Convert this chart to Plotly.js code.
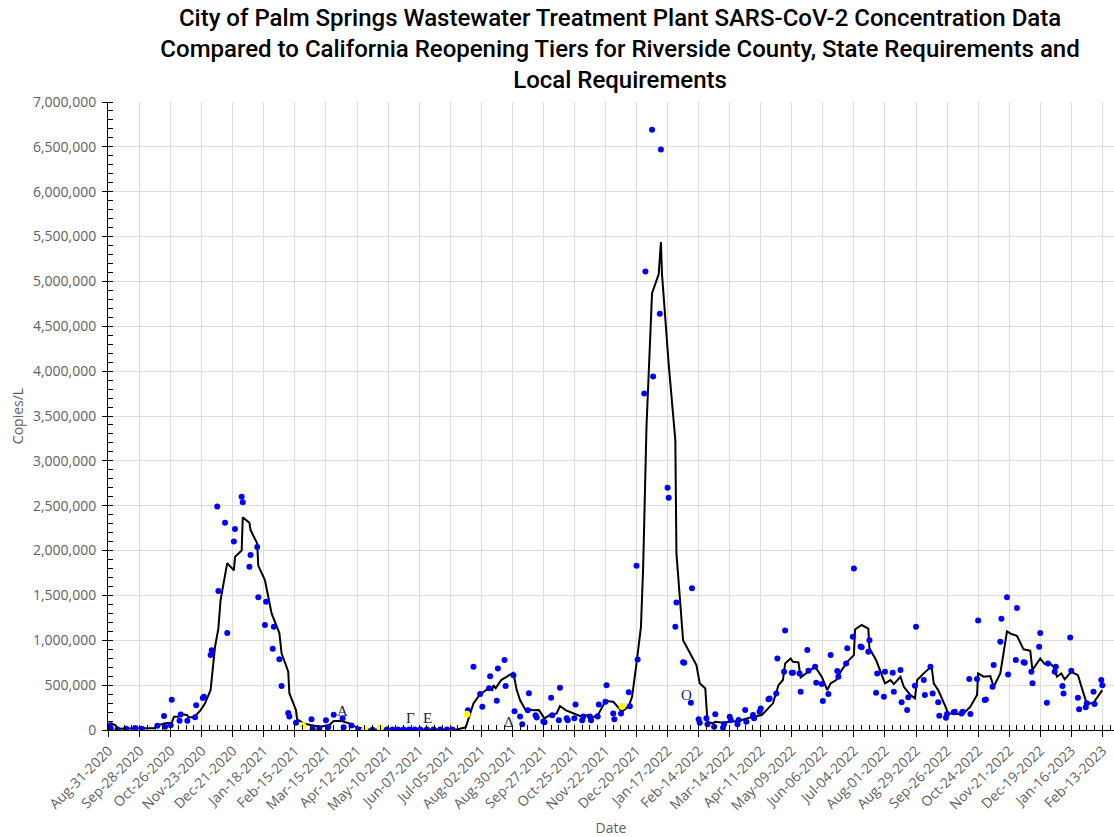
<!DOCTYPE html>
<html>
<head>
<meta charset="utf-8">
<script src="https://cdn.plot.ly/plotly-3.0.1.min.js"></script>
<style>html,body{margin:0;padding:0;background:#fff;}#chart{width:1114px;height:837px;}</style>
</head>
<body>
<div id="chart"></div>
<script>
// Day offsets counted from Aug-31-2020 (first sampling week), values in copies/L
const startDate = '2020-08-31';

const blueDay = [1,2,8,16,24,30,44,50,51,56,57,64,65,71,78,79,85,86,92,93,98,99,105,107,113,114,120,121,127,128,134,135,141,142,148,149,154,156,162,163,169,183,184,190,196,198,203,211,212,219,225,238,251,256,261,266,271,276,281,287,293,299,305,310,
324,329,335,337,343,344,350,351,357,358,365,366,371,373,378,379,385,386,392,393,399,400,406,407,413,414,420,421,427,428,434,435,441,442,448,449,455,456,462,469,470,476,477,483,484,490,491,497,498,504,505,511,512,518,519,525,526,532,533,539,540,546,547,554,555,560,561,567,568,574,575,581,582,587,588,595,596,602,603,609,610,616,617,623,624,630,631,637,638,643,644,649,651,657,658,665,666,671,672,678,679,685,686,692,693,699,700,707,708,714,715,720,721,727,728,735,736,741,743,748,749,755,756,762,763,769,770,776,777,783,784,790,791,797,798,804,805,810,811,818,819,825,826,832,833,839,840,846,847,853,854,860,861,867,868,874,875,881,882,888,889,895,896];
const blueVal = [50000,20000,5000,15000,22000,15000,48000,156000,37000,52000,337000,104000,172000,104000,141000,275000,356000,370000,835000,890000,2490000,1550000,2310000,1080000,2100000,2240000,2600000,2540000,1820000,1950000,2040000,1480000,1170000,1430000,905000,1150000,790000,490000,190000,150000,80000,120000,10000,20000,110000,30000,170000,130000,30000,50000,2000,3000,5000,5000,5000,5000,5000,5000,5000,5000,5000,5000,5000,5000,
220000,705000,400000,260000,465000,600000,325000,685000,780000,490000,610000,210000,150000,63000,220000,410000,165000,140000,95000,85000,360000,165000,110000,470000,130000,110000,130000,285000,110000,150000,150000,110000,150000,285000,315000,500000,185000,120000,185000,420000,265000,1830000,787000,3750000,5110000,6690000,3940000,4640000,6470000,2700000,2590000,1150000,1420000,755000,750000,305000,1580000,120000,81000,130000,63000,37000,175000,26000,67000,148000,111000,63000,111000,222000,92000,167000,130000,204000,241000,342000,352000,408000,798000,649000,1110000,638000,638000,631000,426000,891000,660000,705000,527000,512000,323000,400000,835000,657000,594000,742000,910000,1040000,1800000,930000,921000,872000,1000000,415000,631000,371000,649000,638000,426000,668000,308000,222000,364000,493000,1150000,557000,390000,705000,408000,308000,160000,137000,178000,197000,204000,185000,204000,568000,178000,568000,1220000,334000,340000,482000,724000,983000,1240000,1480000,620000,780000,1360000,754000,750000,649000,520000,928000,1080000,304000,742000,649000,705000,490000,408000,1030000,660000,360000,230000,253000,297000,426000,290000,557000,500000];

const yellowDay = [175,231,245,323,463];
const yellowVal = [50000,5000,20000,175000,265000];

const lineDay = [1,6,9,16,24,30,41,45,51,57,59,63,66,71,72,77,83,87,92,96,99,101,107,113,114,120,121,127,128,134,135,141,147,154,156,162,163,169,170,176,182,191,199,203,210,217,218,224,227,233,250,280,314,322,325,329,335,343,346,347,349,354,358,360,365,368,371,376,379,383,388,393,398,404,407,412,419,425,432,436,442,448,455,459,463,469,472,476,480,482,484,485,490,496,498,499,505,511,512,518,526,530,533,538,540,545,547,554,560,568,574,581,589,595,599,604,608,610,615,617,622,624,630,637,643,648,651,656,661,666,672,673,679,685,686,692,700,705,708,714,717,723,727,729,735,742,744,748,754,757,765,771,777,783,784,789,795,798,804,807,810,814,819,825,831,833,840,844,849,852,855,859,862,868,874,882,888,896];
const lineVal = [81000,55000,15000,20000,20000,20000,20000,55000,74000,81000,148000,148000,178000,165000,141000,141000,222000,297000,445000,928000,1130000,1450000,1860000,1780000,1930000,2000000,2370000,2310000,2230000,2080000,1830000,1670000,1300000,1080000,854000,650000,410000,220000,120000,74000,55000,37000,55000,100000,100000,74000,60000,30000,20000,8000,5000,5000,5000,30000,150000,297000,400000,465000,445000,500000,465000,557000,587000,600000,638000,445000,334000,222000,230000,220000,222000,130000,167000,185000,267000,222000,185000,156000,165000,130000,185000,323000,315000,260000,204000,267000,370000,742000,1150000,1820000,2900000,3380000,4870000,5080000,5440000,5080000,4080000,3230000,1970000,1000000,816000,724000,520000,463000,92000,74000,92000,81000,92000,100000,122000,148000,167000,241000,297000,500000,557000,742000,798000,760000,754000,587000,638000,705000,594000,445000,520000,557000,668000,760000,835000,1120000,1170000,1130000,910000,780000,520000,557000,512000,594000,482000,390000,353000,557000,631000,712000,520000,445000,278000,185000,178000,185000,260000,390000,631000,594000,601000,482000,631000,891000,1100000,1070000,1050000,899000,883000,668000,798000,735000,742000,705000,594000,631000,565000,649000,612000,290000,304000,445000];

// Variant labels (Alpha, Gamma, Epsilon, Delta, Omicron)
const variantText = ['Α','Γ','Ε','Δ','Ο'];
const variantDay = [211,272,288,361,521];
const variantVal = [212000,134000,134000,89000,390000];

const base = Date.UTC(2020,7,31);
function toDate(d){ return new Date(base + d*86400000).toISOString().slice(0,10); }

const traces = [
  {x: lineDay.map(toDate), y: lineVal, type:'scatter', mode:'lines', line:{color:'#000000', width:2}, hoverinfo:'skip'},
  {x: blueDay.map(toDate), y: blueVal, type:'scatter', mode:'markers', marker:{color:'#0000ff', size:6}},
  {x: yellowDay.map(toDate), y: yellowVal, type:'scatter', mode:'markers', marker:{color:'#ffff00', size:7}}
];

const annotations = variantText.map((t,i)=>({
  x: toDate(variantDay[i]), y: variantVal[i], text: t, showarrow:false,
  font:{family:'Liberation Serif, DejaVu Serif, serif', size:15, color:'#222244'}
}));

const tickFont = {family:'Open Sans, sans-serif', size:14, color:'#5f5f5f'};

const layout = {
  width:1114, height:837,
  margin:{l:108, r:0, t:102, b:107},
  paper_bgcolor:'#ffffff', plot_bgcolor:'#ffffff',
  showlegend:false,
  title:{
    text:'City of Palm Springs Wastewater Treatment Plant SARS-CoV-2 Concentration Data<br>Compared to California Reopening Tiers for Riverside County, State Requirements and<br>Local Requirements',
    font:{family:'Roboto, sans-serif', size:24, color:'#000000', weight:500},
    x:0.509, xref:'paper', xanchor:'center', y:0.969, yref:'container', yanchor:'middle'
  },
  xaxis:{
    type:'date',
    range:['2020-08-30 12:00','2023-02-23 12:00'],
    tick0:'2020-08-31', dtick:28*86400000,
    tickformat:'%b-%d-%Y', tickangle:-45,
    tickfont:tickFont,
    showgrid:true, gridcolor:'#dddddd', gridwidth:1,
    showline:true, linecolor:'#000000', linewidth:1,
    ticks:'outside', ticklen:6, tickcolor:'#000000',
    minor:{dtick:7*86400000, tick0:'2020-08-31', ticks:'inside', ticklen:5, tickcolor:'#000000', showgrid:false},
    zeroline:false,
    title:{text:'Date', font:{family:'Open Sans, sans-serif', size:14, color:'#5f5f5f'}, standoff:10}
  },
  yaxis:{
    range:[0,7000000], dtick:500000, tickformat:',d',
    tickfont:tickFont,
    showgrid:true, gridcolor:'#dddddd', gridwidth:1,
    showline:true, linecolor:'#000000', linewidth:1,
    ticks:'outside', ticklen:5, tickcolor:'#000000',
    ticklabelstandoff:3,
    minor:{dtick:100000, ticks:'inside', ticklen:5, tickcolor:'#000000', showgrid:false},
    zeroline:false,
    title:{text:'Copies/L', font:{family:'Open Sans, sans-serif', size:14, color:'#5f5f5f'}, standoff:6}
  },
  annotations: annotations
};

Plotly.newPlot('chart', traces, layout, {displayModeBar:false, staticPlot:true});
</script>
</body>
</html>
